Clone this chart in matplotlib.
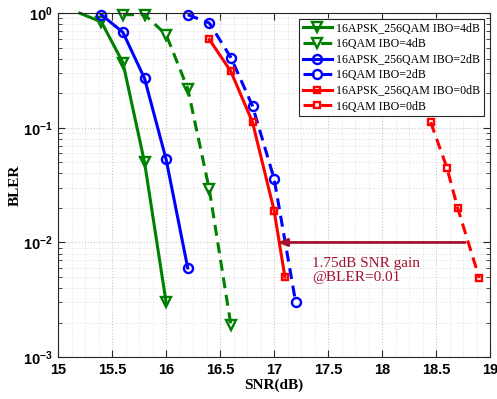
import matplotlib
matplotlib.use("Agg")
import matplotlib.pyplot as plt
from matplotlib.ticker import FixedLocator, FixedFormatter, LogLocator, NullFormatter, MultipleLocator

# BLER curves, SNR in dB
snr_apsk4 = [15.2, 15.4, 15.6, 15.8, 16.0]
bler_apsk4 = [1.0, 0.84, 0.37, 0.050, 0.0030]
snr_qam4 = [15.6, 15.8, 16.0, 16.2, 16.4, 16.6]
bler_qam4 = [0.97, 0.97, 0.65, 0.22, 0.029, 0.0019]
snr_apsk2 = [15.4, 15.6, 15.8, 16.0, 16.2]
bler_apsk2 = [0.97, 0.68, 0.27, 0.053, 0.0060]
snr_qam2 = [16.2, 16.4, 16.6, 16.8, 17.0, 17.2]
bler_qam2 = [0.97, 0.82, 0.41, 0.155, 0.036, 0.0030]
snr_apsk0 = [16.4, 16.6, 16.8, 17.0, 17.1]
bler_apsk0 = [0.59, 0.31, 0.112, 0.019, 0.0050]
snr_qam0 = [18.45, 18.6, 18.7, 18.9]
bler_qam0 = [0.112, 0.045, 0.020, 0.0049]

labels = ["16APSK_256QAM IBO=4dB", "16QAM IBO=4dB",
          "16APSK_256QAM IBO=2dB", "16QAM IBO=2dB",
          "16APSK_256QAM IBO=0dB", "16QAM IBO=0dB"]

x_ticks = [15, 15.5, 16, 16.5, 17, 17.5, 18, 18.5, 19]
x_tick_labels = ["15", "15.5", "16", "16.5", "17", "17.5", "18", "18.5", "19"]
y_ticks = [1e-3, 1e-2, 1e-1, 1e0]
y_tick_labels = [r"$\mathbf{10^{-3}}$", r"$\mathbf{10^{-2}}$",
                 r"$\mathbf{10^{-1}}$", r"$\mathbf{10^{0}}$"]

# gain annotation at BLER = 0.01
gain_bler = 0.01
gain_from = 18.77
gain_to = 17.03
gain_text = "1.75dB SNR gain\n@BLER=0.01"

plt.rcParams["mathtext.fontset"] = "custom"
plt.rcParams["mathtext.bf"] = "Liberation Sans:bold"
plt.rcParams["mathtext.rm"] = "Liberation Sans"

fig = plt.figure(figsize=(4.97, 3.99), dpi=100)
ax = fig.add_axes([0.117, 0.105, 0.869, 0.862])

green = (0, 0.5, 0)
maroon = (0.635, 0.078, 0.184)
lw = 2.2
mew = 1.7
dash = (3.6, 2.2)

common = dict(lw=lw, mfc="none", mew=mew, clip_on=False)
ax.semilogy(snr_apsk4, bler_apsk4, "-", color=green, marker="v", ms=7.5,
            markevery=list(range(1, len(snr_apsk4))), label=labels[0], **common)
ax.semilogy(snr_qam4, bler_qam4, "--", color=green, marker="v", ms=7.5,
            dashes=dash, label=labels[1], **common)
ax.semilogy(snr_apsk2, bler_apsk2, "-", color="b", marker="o", ms=6.5,
            label=labels[2], **common)
ax.semilogy(snr_qam2, bler_qam2, "--", color="b", marker="o", ms=6.5,
            dashes=dash, label=labels[3], **common)
ax.semilogy(snr_apsk0, bler_apsk0, "-", color="r", marker="s", ms=5,
            label=labels[4], **common)
ax.semilogy(snr_qam0, bler_qam0, "--", color="r", marker="s", ms=5,
            dashes=dash, label=labels[5], **common)

ax.set_xlim(15, 19)
ax.set_ylim(1e-3, 1)

ax.xaxis.set_major_locator(FixedLocator(x_ticks))
ax.xaxis.set_major_formatter(FixedFormatter(x_tick_labels))
ax.xaxis.set_minor_locator(MultipleLocator(0.125))
ax.yaxis.set_major_locator(FixedLocator(y_ticks))
ax.yaxis.set_major_formatter(FixedFormatter(y_tick_labels))
ax.yaxis.set_minor_locator(LogLocator(base=10, subs=range(2, 10)))
ax.yaxis.set_minor_formatter(NullFormatter())

ax.tick_params(which="both", direction="in", top=True, right=True, color="#262626")
ax.tick_params(which="major", length=5, width=0.8, labelsize=10.5, pad=4)
ax.tick_params(which="minor", length=3, width=0.6)
ax.tick_params(axis="x", which="minor", length=0)
for lab in ax.get_xticklabels():
    lab.set_fontfamily("Liberation Sans")
    lab.set_fontweight("bold")

ax.grid(True, which="major", ls=":", color="#c8c8c8", lw=0.8)
ax.grid(True, which="minor", ls=":", color="#dcdcdc", lw=0.6)
ax.set_axisbelow(True)
for sp in ax.spines.values():
    sp.set_color("#262626")
    sp.set_linewidth(0.8)

ax.set_xlabel("SNR(dB)", fontfamily="Liberation Serif", fontweight="bold",
              fontsize=11, labelpad=1)
ax.set_ylabel("BLER", fontfamily="Liberation Serif", fontweight="bold",
              fontsize=11, labelpad=1)

leg = ax.legend(loc="upper right", bbox_to_anchor=(0.986, 0.983),
                prop={"family": "Liberation Serif", "size": 8.6},
                frameon=True, fancybox=False, edgecolor="#262626",
                framealpha=1, borderpad=0.3, labelspacing=0.3,
                handlelength=2.4, handletextpad=0.4, borderaxespad=0)
leg.get_frame().set_linewidth(0.8)
leg.set_zorder(10)

ax.annotate("", xy=(gain_to, gain_bler), xytext=(gain_from, gain_bler),
            arrowprops=dict(arrowstyle="-|>,head_length=0.55,head_width=0.22",
                            color=maroon, lw=2, shrinkA=0, shrinkB=0))
ax.text(17.35, 0.0074, gain_text, color=maroon, fontfamily="Liberation Serif",
        fontsize=11, va="top", ha="left", linespacing=1.1)

fig.savefig("out.png", dpi=100)
